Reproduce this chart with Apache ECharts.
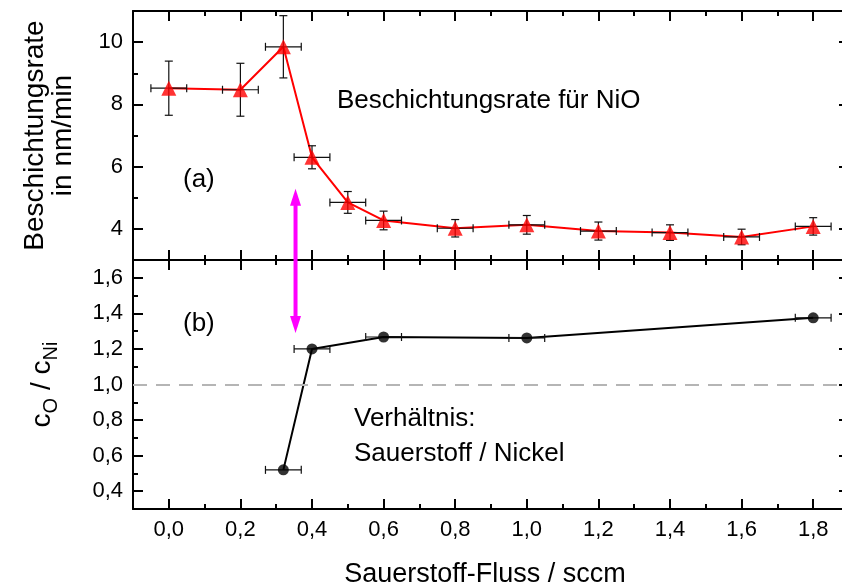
<!DOCTYPE html>
<html>
<head>
<meta charset="utf-8">
<script src="https://cdn.jsdelivr.net/npm/echarts@6/dist/echarts.min.js"></script>
<style>
html,body{margin:0;padding:0;background:#fff;}
#c{width:842px;height:587px;}
</style>
</head>
<body>
<div id="c"></div>
<script>
// ---- data ----
const flowTop = [0.0, 0.2, 0.32, 0.4, 0.5, 0.6, 0.8, 1.0, 1.2, 1.4, 1.6, 1.8];
const rate = [8.52, 8.47, 9.85, 6.3, 4.85, 4.27, 4.02, 4.13, 3.93, 3.88, 3.74, 4.08];
const rateErr = [0.87, 0.85, 1.0, 0.37, 0.35, 0.3, 0.28, 0.3, 0.29, 0.25, 0.25, 0.28];
const flowTopErr = [0.05, 0.05, 0.05, 0.05, 0.05, 0.05, 0.05, 0.05, 0.05, 0.05, 0.05, 0.05];

const flowBot = [0.32, 0.4, 0.6, 1.0, 1.8];
const ratio = [0.52, 1.2, 1.267, 1.262, 1.375];
const flowBotErr = [0.05, 0.05, 0.05, 0.05, 0.05];

const stoich = 1.0; // dashed reference line
const arrowX = 0.354, arrowTopVal = 5.29, arrowBotVal = 1.29;

const xMajor = [0, 0.2, 0.4, 0.6, 0.8, 1.0, 1.2, 1.4, 1.6, 1.8];
const xMinor = [0.1, 0.3, 0.5, 0.7, 0.9, 1.1, 1.3, 1.5, 1.7];
const yTopMajor = [4, 6, 8, 10];
const yTopMinor = [5, 7, 9];
const yBotMajor = [0.4, 0.6, 0.8, 1.0, 1.2, 1.4, 1.6];
const yBotMinor = [0.5, 0.7, 0.9, 1.1, 1.3, 1.5];

const FONT = "'Liberation Sans', Arial, Helvetica, sans-serif";
const X_MIN = -0.1, X_MAX = 1.9;

function comma(v) { return v.toFixed(1).replace('.', ','); }

function ax(grid, pos, min, max, interval, ticks, len, line, extra) {
  const o = {
    type: 'value', gridIndex: grid, position: pos, min: min, max: max, interval: interval,
    axisLine: { show: line, onZero: false, lineStyle: { color: '#000', width: 2 } },
    axisTick: { show: true, inside: true, length: len, customValues: ticks, lineStyle: { color: '#000', width: 2 } },
    axisLabel: { show: false },
    splitLine: { show: false }
  };
  return Object.assign(o, extra || {});
}

const xAxes = [
  ax(0, 'bottom', X_MIN, X_MAX, 0.1, xMajor, 10, true),
  ax(0, 'bottom', X_MIN, X_MAX, 0.1, xMinor, 5, false),
  ax(0, 'top', X_MIN, X_MAX, 0.1, xMajor, 10, true),
  ax(0, 'top', X_MIN, X_MAX, 0.1, xMinor, 5, false),
  ax(1, 'bottom', X_MIN, X_MAX, 0.1, xMajor, 10, true, {
    name: 'Sauerstoff-Fluss / sccm', nameLocation: 'middle', nameGap: 52,
    nameTextStyle: { fontSize: 27, fontFamily: FONT, color: '#000', padding: [0, 12, 0, 0] }
  }),
  ax(1, 'bottom', X_MIN, X_MAX, 0.1, xMinor, 5, false),
  ax(1, 'top', X_MIN, X_MAX, 0.1, xMajor, 10, true),
  ax(1, 'top', X_MIN, X_MAX, 0.1, xMinor, 5, false)
];
xAxes[4].axisLabel = { show: true, customValues: xMajor, formatter: comma, fontSize: 22, fontFamily: FONT, color: '#000', margin: 10 };

const yAxes = [
  ax(0, 'left', 3, 11, 1, yTopMajor, 10, true, {
    name: 'Beschichtungsrate\nin nm/min', nameLocation: 'middle', nameGap: 56,
    nameTextStyle: { fontSize: 28, lineHeight: 28, fontFamily: FONT, color: '#000' }
  }),
  ax(0, 'left', 3, 11, 1, yTopMinor, 5, false),
  ax(0, 'right', 3, 11, 1, yTopMajor, 10, true),
  ax(0, 'right', 3, 11, 1, yTopMinor, 5, false),
  ax(1, 'left', 0.3, 1.7, 0.1, yBotMajor, 10, true, {
    name: '{n|c}{s|O}{n| / c}{s|Ni}', nameLocation: 'middle', nameGap: 72,
    nameTextStyle: {
      fontSize: 28, fontFamily: FONT, color: '#000',
      rich: {
        n: { fontSize: 28, lineHeight: 38, fontFamily: FONT, color: '#000', verticalAlign: 'middle' },
        s: { fontSize: 20, lineHeight: 20, fontFamily: FONT, color: '#000', verticalAlign: 'bottom' }
      }
    }
  }),
  ax(1, 'left', 0.3, 1.7, 0.1, yBotMinor, 5, false),
  ax(1, 'right', 0.3, 1.7, 0.1, yBotMajor, 10, true),
  ax(1, 'right', 0.3, 1.7, 0.1, yBotMinor, 5, false)
];
yAxes[0].axisLabel = { show: true, customValues: yTopMajor, formatter: v => String(Math.round(v)), fontSize: 22, fontFamily: FONT, color: '#000', margin: 10 };
yAxes[4].axisLabel = { show: true, customValues: yBotMajor, formatter: comma, fontSize: 22, fontFamily: FONT, color: '#000', margin: 10 };

function errRender(params, api) {
  const x = api.value(0), y = api.value(1), ey = api.value(2), ex = api.value(3);
  const st = { stroke: '#111', lineWidth: 1.2 };
  const cap = 4;
  const ch = [];
  if (ey > 0) {
    const t = api.coord([x, y + ey]), b = api.coord([x, y - ey]);
    ch.push({ type: 'line', shape: { x1: t[0], y1: t[1], x2: b[0], y2: b[1] }, style: st });
    ch.push({ type: 'line', shape: { x1: t[0] - cap, y1: t[1], x2: t[0] + cap, y2: t[1] }, style: st });
    ch.push({ type: 'line', shape: { x1: b[0] - cap, y1: b[1], x2: b[0] + cap, y2: b[1] }, style: st });
  }
  if (ex > 0) {
    const l = api.coord([x - ex, y]), r = api.coord([x + ex, y]);
    ch.push({ type: 'line', shape: { x1: l[0], y1: l[1], x2: r[0], y2: r[1] }, style: st });
    ch.push({ type: 'line', shape: { x1: l[0], y1: l[1] - cap, x2: l[0], y2: l[1] + cap }, style: st });
    ch.push({ type: 'line', shape: { x1: r[0], y1: r[1] - cap, x2: r[0], y2: r[1] + cap }, style: st });
  }
  return { type: 'group', children: ch };
}

const topPts = flowTop.map((x, i) => [x, rate[i]]);
const topErr = flowTop.map((x, i) => [x, rate[i], rateErr[i], flowTopErr[i]]);
const botPts = flowBot.map((x, i) => [x, ratio[i]]);
const botErr = flowBot.map((x, i) => [x, ratio[i], 0, flowBotErr[i]]);

const chart = echarts.init(document.getElementById('c'), null, { renderer: 'canvas' });
chart.setOption({
  animation: false,
  backgroundColor: '#fff',
  textStyle: { fontFamily: FONT },
  grid: [
    { left: 133, right: -7, top: 11, height: 249, outerBoundsMode: 'none' },
    { left: 133, right: -7, top: 260, height: 249, outerBoundsMode: 'none' }
  ],
  xAxis: xAxes,
  yAxis: yAxes,
  series: [
    { type: 'line', xAxisIndex: 0, yAxisIndex: 0, data: topPts, symbol: 'none', z: 1,
      lineStyle: { color: '#ff0000', width: 2 } },
    { type: 'custom', xAxisIndex: 0, yAxisIndex: 0, data: topErr, renderItem: errRender, z: 2,
      encode: { x: 0, y: 1 } },
    { type: 'scatter', xAxisIndex: 0, yAxisIndex: 0, data: topPts, symbol: 'triangle', symbolSize: 15, z: 3,
      itemStyle: { color: '#ff0000' } },
    { type: 'line', xAxisIndex: 4, yAxisIndex: 4, data: botPts, symbol: 'none', z: 1,
      lineStyle: { color: '#000', width: 2 },
      markLine: { silent: true, symbol: 'none', label: { show: false },
        lineStyle: { color: '#b5b5b5', width: 2, type: [14, 9] },
        data: [{ yAxis: stoich }] } },
    { type: 'custom', xAxisIndex: 4, yAxisIndex: 4, data: botErr, renderItem: errRender, z: 2,
      encode: { x: 0, y: 1 } },
    { type: 'scatter', xAxisIndex: 4, yAxisIndex: 4, data: botPts, symbol: 'circle', symbolSize: 11, z: 3,
      itemStyle: { color: '#000' } }
  ]
});

const pTop = chart.convertToPixel({ gridIndex: 0 }, [arrowX, arrowTopVal]);
const pBot = chart.convertToPixel({ gridIndex: 1 }, [arrowX, arrowBotVal]);
const headL = 17, headW = 5.5, mag = '#ff00ff';
const txt = (x, y, s) => ({ type: 'text', left: x, top: y, z: 10,
  style: { text: s, font: '26px ' + FONT, fill: '#000' } });
chart.setOption({
  graphic: [
    { type: 'line', z: 10, shape: { x1: pTop[0], y1: pTop[1] + headL - 2, x2: pBot[0], y2: pBot[1] - headL + 2 },
      style: { stroke: mag, lineWidth: 4 } },
    { type: 'polygon', z: 10, shape: { points: [[pTop[0], pTop[1]], [pTop[0] - headW, pTop[1] + headL], [pTop[0] + headW, pTop[1] + headL]] },
      style: { fill: mag } },
    { type: 'polygon', z: 10, shape: { points: [[pBot[0], pBot[1]], [pBot[0] - headW, pBot[1] - headL], [pBot[0] + headW, pBot[1] - headL]] },
      style: { fill: mag } },
    txt(337, 88, 'Beschichtungsrate für NiO'),
    txt(183, 167, '(a)'),
    txt(183, 311, '(b)'),
    txt(354, 406, 'Verhältnis:'),
    txt(354, 441, 'Sauerstoff / Nickel')
  ]
});
</script>
</body>
</html>
